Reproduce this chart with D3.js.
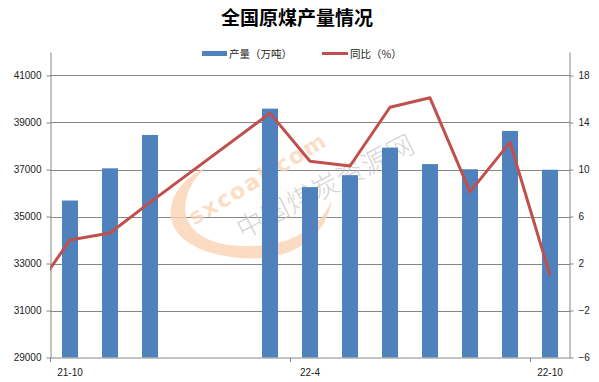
<!DOCTYPE html>
<html>
<head>
<meta charset="utf-8">
<script src="https://cdn.jsdelivr.net/npm/d3@7"></script>
<style>
  html, body { margin: 0; padding: 0; background: #fff; }
  svg { display: block; }
</style>
</head>
<body>
<div id="chart"></div>
<script>
// ---- data ----
const months = ["21-10","21-11","21-12","22-1","22-2","22-3","22-4","22-5","22-6","22-7","22-8","22-9","22-10"];
const output = [35680, 37050, 38470, null, null, 39590, 36250, 36760, 37930, 37230, 37010, 38640, 36990];
const yoy    = [4.0, 4.6, 7.2, null, null, 14.8, 10.7, 10.3, 15.3, 16.1, 8.1, 12.3, 1.0];
const prevMonth = "21-9";
const prevYoy = -0.9;
const xLabels = ["21-10", "22-4", "22-10"];
const leftTicks = [29000, 31000, 33000, 35000, 37000, 39000, 41000];
const rightTicks = [-6, -2, 2, 6, 10, 14, 18];
const title = "全国原煤产量情况";
const legendNames = ["产量（万吨）", "同比（%）"];

// ---- layout ----
const W = 599, H = 382;
const m = { left: 50, right: 29, top: 52, bottom: 24.5 };
const pw = W - m.left - m.right, ph = H - m.top - m.bottom;
const barColor = "#4F81BD", lineColor = "#C0504D", gridColor = "#868686";
const fontTick = "'Liberation Sans', Arial, sans-serif";
const fontCJK = "'Noto Sans CJK SC', sans-serif";

const svg = d3.select("#chart").append("svg").attr("width", W).attr("height", H);

const x = d3.scaleBand().domain(months).range([m.left, m.left + pw]).paddingInner(0.6).paddingOuter(0.3);
const step = x.step();
const cx = i => m.left + step * (i + 0.5);
const yL = d3.scaleLinear().domain([29000, 42000]).range([m.top + ph, m.top]);
const yR = d3.scaleLinear().domain([-6, 20]).range([m.top + ph, m.top]);

// clip
svg.append("defs").append("clipPath").attr("id", "plotclip")
  .append("rect").attr("x", m.left).attr("y", m.top).attr("width", pw).attr("height", ph);

// gridlines
svg.append("g").selectAll("line").data(leftTicks.slice(1)).join("line")
  .attr("x1", m.left).attr("x2", m.left + pw)
  .attr("y1", d => Math.round(yL(d)) + 0.5).attr("y2", d => Math.round(yL(d)) + 0.5)
  .attr("stroke", gridColor).attr("stroke-width", 1);

// watermark (behind bars)
const wm = svg.append("g").attr("pointer-events", "none");
wm.append("path")
  .attr("d", "M 205 168 C 158 190, 150 250, 240 258 C 290 262, 325 240, 332 200 C 318 232, 285 248, 240 246 C 178 243, 172 200, 205 168 Z")
  .attr("fill", "#FAD3B4").attr("opacity", 0.8);
wm.append("text").attr("transform", "translate(262,185) rotate(-31)")
  .attr("text-anchor", "middle").attr("font-family", "'DejaVu Sans', sans-serif")
  .attr("font-weight", "bold").attr("font-size", 22).attr("fill", "#FAD3B4").attr("opacity", 0.75)
  .attr("letter-spacing", 2).text("sxcoal.com");
wm.append("text").attr("transform", "translate(330,195) rotate(-27)")
  .attr("text-anchor", "middle").attr("font-family", fontCJK).attr("font-weight", 300)
  .attr("font-size", 27).attr("letter-spacing", 1).attr("fill", "#C4C4C4").attr("opacity", 0.7).text("中国煤炭资源网");

// bars
svg.append("g").selectAll("rect").data(months.map((mth, i) => ({ mth, v: output[i] })).filter(d => d.v != null))
  .join("rect")
  .attr("x", d => x(d.mth)).attr("width", x.bandwidth())
  .attr("y", d => yL(d.v)).attr("height", d => yL(29000) - yL(d.v))
  .attr("fill", barColor);

// line (includes previous month, clipped to plot area)
const linePts = [{ i: -1, v: prevYoy, label: prevMonth }]
  .concat(months.map((mth, i) => ({ i, v: yoy[i], label: mth })).filter(d => d.v != null));
svg.append("path").datum(linePts)
  .attr("clip-path", "url(#plotclip)")
  .attr("d", d3.line().x(d => cx(d.i)).y(d => yR(d.v)))
  .attr("fill", "none").attr("stroke", lineColor).attr("stroke-width", 3)
  .attr("stroke-linejoin", "round");

// axes
const axisStyle = g => {
  g.selectAll(".domain").attr("stroke", gridColor);
  g.selectAll(".tick line").attr("stroke", gridColor);
  g.selectAll("text").attr("font-family", fontTick).attr("font-size", 10).attr("fill", "#222");
};
svg.append("g").attr("transform", `translate(${m.left + 0.5},0)`)
  .call(d3.axisLeft(yL).tickValues(leftTicks).tickSize(4).tickSizeOuter(0).tickPadding(5).tickFormat(d3.format("d")))
  .call(axisStyle);
svg.append("g").attr("transform", `translate(${m.left + pw - 0.5},0)`)
  .call(d3.axisRight(yR).tickValues(rightTicks).tickSize(4).tickSizeOuter(0).tickPadding(5).tickFormat(d3.format("d")))
  .call(axisStyle);

// x axis
const xa = svg.append("g").attr("transform", `translate(0,${m.top + ph + 0.5})`);
xa.append("line").attr("x1", m.left).attr("x2", m.left + pw).attr("stroke", gridColor);
xa.selectAll("line.tk").data([0, 6, 12]).join("line").attr("class", "tk")
  .attr("x1", i => Math.round(m.left + i * step) + 0.5).attr("x2", i => Math.round(m.left + i * step) + 0.5)
  .attr("y1", 0).attr("y2", 4).attr("stroke", gridColor);
xa.selectAll("text").data(xLabels).join("text")
  .attr("x", d => x(d) + x.bandwidth() / 2).attr("y", 18)
  .attr("text-anchor", "middle").attr("font-family", fontTick).attr("font-size", 10).attr("fill", "#222")
  .text(d => d);

// title
svg.append("text").attr("x", 297).attr("y", 25).attr("text-anchor", "middle")
  .attr("font-family", fontCJK).attr("font-weight", "bold").attr("font-size", 19).attr("fill", "#000")
  .text(title);

// legend
const lg = svg.append("g").attr("font-family", fontCJK).attr("font-size", 10.5).attr("fill", "#222");
lg.append("rect").attr("x", 202).attr("y", 51).attr("width", 25).attr("height", 5).attr("fill", barColor);
lg.append("text").attr("x", 229).attr("y", 57.5).text(legendNames[0]);
lg.append("line").attr("x1", 322).attr("x2", 348).attr("y1", 53.5).attr("y2", 53.5)
  .attr("stroke", lineColor).attr("stroke-width", 3);
lg.append("text").attr("x", 350).attr("y", 57.5).text(legendNames[1]);
</script>
</body>
</html>
